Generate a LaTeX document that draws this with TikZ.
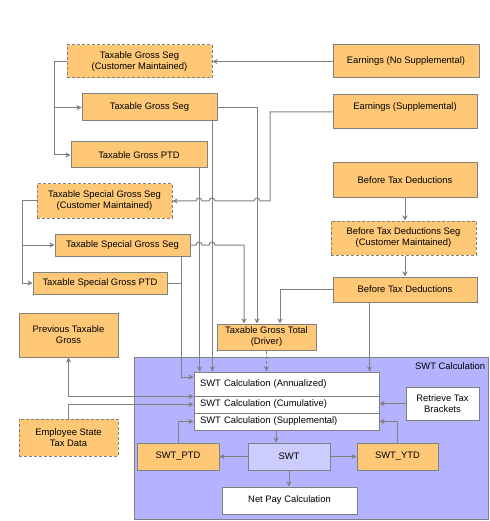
\documentclass[tikz,border=0pt]{standalone}
\usepackage{fontspec}
\setmainfont{Liberation Sans}
\usepackage{xcolor}
\usetikzlibrary{arrows.meta}
\definecolor{linegray}{HTML}{808080}
\definecolor{boxorange}{HTML}{FFC877}
\definecolor{areablue}{HTML}{B3B3FF}
\definecolor{swtblue}{HTML}{CCCCFF}

\begin{document}
\begin{tikzpicture}[x=1pt,y=-1pt]
		\tikzset{>={Stealth[length=5pt,width=5pt,inset=1.5pt]}}
		\tikzset{every node/.style={font=\fontsize{9.4}{11}\selectfont},
			obox/.style={draw=linegray,fill=boxorange,line width=1pt,align=center,inner sep=0pt},
			cbox/.style={obox,dashed,dash pattern=on 3pt off 2pt},
			wbox/.style={obox,fill=white},
			row/.style={wbox,minimum width=185pt,text width=173pt,align=left},
			link/.style={draw=linegray,line width=1pt},
			hop/.style={out=90,in=90,looseness=1.7}}
		\useasboundingbox (0,0) rectangle (489,521);
		
		% SWT Calculation area
		\draw[fill=areablue,draw=linegray,line width=1pt] (134,357) rectangle (488,519);
		\node[anchor=north west,inner sep=1pt] (area) at (414,361) {SWT Calculation};
		
		% earnings and taxable gross
		\node[cbox,minimum width=145pt,minimum height=33pt] (tgscm) at (139.5,61.5) {Taxable Gross Seg\\(Customer Maintained)};
		\node[obox,minimum width=135pt,minimum height=27pt] (tgs) at (149.5,107.5) {Taxable Gross Seg};
		\node[obox,minimum width=136pt,minimum height=26pt] (tgptd) at (139,155) {Taxable Gross PTD};
		\node[obox,minimum width=146pt,minimum height=33pt] (ens) at (406,61.5) {Earnings (No Supplemental)};
		\node[obox,minimum width=144pt,minimum height=34pt] (es) at (405,112) {Earnings (Supplemental)\\\mbox{}};
		
		% before tax deductions
		\node[obox,minimum width=144pt,minimum height=35pt] (btda) at (405,180.5) {Before Tax Deductions};
		\node[cbox,minimum width=145pt,minimum height=34pt] (btdseg) at (403.5,238) {Before Tax Deductions Seg\\(Customer Maintained)};
		\node[obox,minimum width=144pt,minimum height=25pt] (btdb) at (405,289.5) {Before Tax Deductions};
		
		% taxable special gross
		\node[cbox,minimum width=135pt,minimum height=34pt] (tsgscm) at (104.5,201) {Taxable Special Gross Seg\\(Customer Maintained)};
		\node[obox,minimum width=135pt,minimum height=22pt] (tsgs) at (122.5,245) {Taxable Special Gross Seg};
		\node[obox,minimum width=134pt,minimum height=22pt] (tsgptd) at (100,283) {Taxable Special Gross PTD};
		
		\node[obox,minimum width=99pt,minimum height=44pt] (ptg) at (68.5,335) {Previous Taxable\\Gross};
		\node[obox,minimum width=99pt,minimum height=26pt] (tgt) at (266.5,337) {Taxable Gross Total\\(Driver)};
		\node[cbox,minimum width=99pt,minimum height=37pt] (estd) at (68.5,437.5) {Employee State\\Tax Data};
		
		% calculation rows
		\node[row,minimum height=24pt] (swtann) at (286.5,384) {SWT Calculation (Annualized)};
		\node[row,minimum height=17pt] (swtcum) at (286.5,404.5) {SWT Calculation (Cumulative)};
		\node[row,minimum height=17pt] (swtsup) at (286.5,421.5) {SWT Calculation (Supplemental)};
		\node[wbox,minimum width=73pt,minimum height=33pt] (rtb) at (442.5,403.5) {Retrieve Tax\\Brackets};
		
		\node[obox,minimum width=82pt,minimum height=27pt] (swtptd) at (178,456.5) {SWT\_PTD};
		\node[obox,fill=swtblue,minimum width=82pt,minimum height=27pt] (swt) at (289,456.5) {SWT};
		\node[obox,minimum width=81pt,minimum height=27pt] (swtytd) at (397.5,456.5) {SWT\_YTD};
		\node[wbox,minimum width=135pt,minimum height=27pt] (npc) at (289.5,500.5) {Net Pay Calculation};
		
		% connectors
		\draw[link,->] (ens.west) -- (tgscm.east);
		\draw[link,->] (tgscm.west) -- ++(-12,0) |- (tgs.west);
		\draw[link,->] (tgscm.west) -- ++(-12,0) |- (tgptd.west);
		\draw[link,->] (tgs.east) -| ([xshift=-9.5pt]tgt.north);
		\draw[link,->] ([xshift=-5pt]tgs.south east) -- ([xshift=-5pt]tgs.south east |- swtann.north);
		\draw[link,->] ([xshift=-8pt]tgptd.south east) -- ([xshift=-8pt]tgptd.south east |- swtann.north);
		
		\draw[link,->] (es.west) -| (270,201) -- (260,201) to[hop] (254,201) -- (215,201) to[hop] (209,201)
			-- (202,201) to[hop] (196,201) -- (tsgscm.east);
		\draw[link,->] (tsgscm.west) -- ++(-14,0) |- (tsgs.west);
		\draw[link,->] (tsgscm.west) -- ++(-14,0) |- (tsgptd.west);
		\draw[link,->] (tsgs.east) -- (196,245) to[hop] (202,245) -- (209,245) to[hop] (215,245)
			-| ([xshift=-22.5pt]tgt.north);
		\draw[link,->] ([xshift=-9pt]tsgs.south east) |- ([yshift=7pt]swtann.west);
		\draw[link] (tsgptd.east) -- ++(14,0);
		
		\draw[link,->] (btda.south) -- (btda.south |- btdseg.north);
		\draw[link,->] (btdb.north |- btdseg.south) -- (btdb.north);
		\draw[link,->] (btdb.west) -| ([xshift=13.5pt]tgt.north);
		\draw[link,->] ([xshift=37pt]btdb.south west) -- ([xshift=37pt]btdb.south west |- swtann.north);
		\draw[link,->,dashed,dash pattern=on 3pt off 2pt] (tgt.south) -- (tgt.south |- swtann.north);
		
		\draw[link,<->] (ptg.south) |- (swtann.south west);
		\draw[link,->] (estd.north) |- (swtcum.west);
		\draw[link,->] (swtptd.north) |- (swtsup.west);
		\draw[link,->] (rtb.west) -- (rtb.west -| swtcum.east);
		\draw[link,->] (swtytd.north) |- (swtsup.east);
		\draw[link,->] ([xshift=-13pt]swt.north |- swtsup.south) -- ([xshift=-13pt]swt.north);
		\draw[link,->] (swt.west) -- (swtptd.east);
		\draw[link,->] (swt.east) -- (swtytd.west);
		\draw[link,->] (swt.south) -- (swt.south |- npc.north);
\end{tikzpicture}
\end{document}
